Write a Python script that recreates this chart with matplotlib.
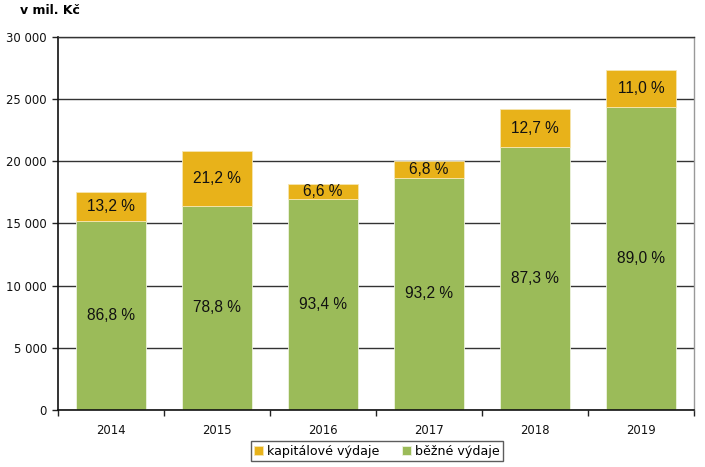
import matplotlib
matplotlib.use("Agg")
import matplotlib.pyplot as plt
import numpy as np

years = ["2014", "2015", "2016", "2017", "2018", "2019"]
bezne = [15190, 16420, 16980, 18690, 21135, 24360]
kapital = [2310, 4420, 1200, 1360, 3075, 3010]
bezne_pct = ["86,8 %", "78,8 %", "93,4 %", "93,2 %", "87,3 %", "89,0 %"]
kapital_pct = ["13,2 %", "21,2 %", "6,6 %", "6,8 %", "12,7 %", "11,0 %"]
yticks = [0, 5000, 10000, 15000, 20000, 25000, 30000]
ytick_labels = ["0", "5 000", "10 000", "15 000", "20 000", "25 000", "30 000"]

c_green = "#9BBB59"
c_orange = "#E8B21A"

fig = plt.figure(figsize=(7.05, 4.67), dpi=100)
ax = fig.add_axes([58/705, 57/467, (694-58)/705, (410-37)/467])

x = np.arange(len(years))
w = 0.66
b1 = ax.bar(x, bezne, w, color=c_green, edgecolor="#EEF3E0", linewidth=0.6, label="běžné výdaje", zorder=2)
b2 = ax.bar(x, kapital, w, bottom=bezne, color=c_orange, edgecolor="#F6E6B0", linewidth=0.6, label="kapitálové výdaje", zorder=2)

lbl_font = ["Liberation Sans", "DejaVu Sans"]
for i in range(len(years)):
    ax.text(x[i], bezne[i] / 2, bezne_pct[i], ha="center", va="center",
            fontsize=11.2, family=lbl_font, color="#111111", zorder=3)
    ax.text(x[i], bezne[i] + kapital[i] / 2, kapital_pct[i], ha="center", va="center",
            fontsize=11.2, family=lbl_font, color="#111111", zorder=3)

ax.set_xlim(-0.5, len(years) - 0.5)
ax.set_ylim(0, 30000)
ax.set_yticks(yticks)
ax.set_yticklabels(ytick_labels, fontsize=8.4, color="#111111")
ax.set_xticks(x)
ax.set_xticklabels(years, fontsize=8.4, color="#111111")
ax.set_xticks(np.arange(-0.5, len(years)), minor=True)
ax.tick_params(axis="x", which="major", length=0, pad=10)
ax.tick_params(axis="x", which="minor", length=4, width=1, color="#222222")
ax.tick_params(axis="y", length=4, width=1, color="#222222", pad=4)

ax.yaxis.grid(True, color="#333333", linewidth=1)
ax.set_axisbelow(True)
for s in ["left", "bottom"]:
    ax.spines[s].set_color("#111111")
    ax.spines[s].set_linewidth(1.2)
ax.spines["top"].set_color("#333333")
ax.spines["top"].set_linewidth(1)
ax.spines["right"].set_color("#999999")
ax.spines["right"].set_linewidth(1)

fig.text(20/705, 1 - 11/467, "v mil. Kč", fontsize=9, fontweight="bold", ha="left", va="center")

leg = fig.legend(handles=[b2, b1], labels=["kapitálové výdaje", "běžné výdaje"],
                 loc="center", bbox_to_anchor=(377/705, 1 - 451/467), ncol=2,
                 fontsize=9.1, frameon=True, fancybox=False, handlelength=0.7, handleheight=0.7,
                 handletextpad=0.3, columnspacing=1.8, borderpad=0.3)
leg.get_frame().set_edgecolor("#333333")
leg.get_frame().set_linewidth(1)

fig.savefig("out.png", dpi=100)
